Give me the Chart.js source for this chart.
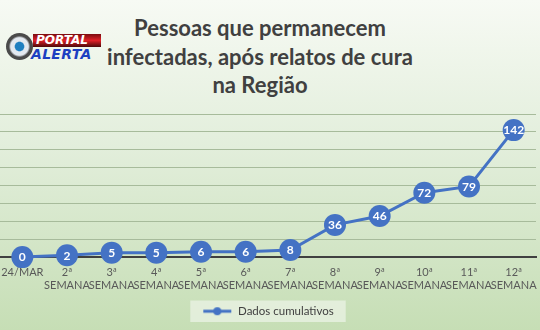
<!DOCTYPE html>
<html>
<head>
<meta charset="utf-8">
<script src="https://cdn.jsdelivr.net/npm/chart.js@4"></script>
<style>
  html, body { margin: 0; padding: 0; }
  body { width: 540px; height: 330px; overflow: hidden; }
  #wrap { position: relative; width: 540px; height: 330px; background: linear-gradient(#f7faf4, #e2eedb 45%, #c6deb5); }
  #title { position: absolute; left: 0; top: 14px; width: 520px; text-align: center; font: bold 22px Lato, "Open Sans", sans-serif; color: #404040; line-height: 28.5px; }
  #logo { position: absolute; left: 0; top: 0; width: 110px; height: 70px; }
  #logo .eye { position: absolute; left: 6px; top: 33px; width: 27px; height: 27px; border-radius: 50%; background: radial-gradient(#1f7fc0 0 22%, #e3e9f0 28% 46%, #4a4a4a 56% 100%); }
  #logo .p { position: absolute; left: 33px; top: 34px; width: 68px; height: 13px; background: linear-gradient(#7a0c10, #e02027 50%, #4a0808); font: italic 900 12px "DejaVu Sans", sans-serif; color: #fff; line-height: 13px; padding-left: 3px; box-sizing: border-box; }
  #logo .a { position: absolute; left: 31px; top: 46px; font: italic 900 14px "DejaVu Sans", sans-serif; color: #1d3fc1; letter-spacing: 0.3px; }
  canvas { position: absolute; left: 0; top: 0; }
</style>
</head>
<body>
<div id="wrap">
  <div id="title">Pessoas que permanecem<br>infectadas, após relatos de cura<br>na Região</div>
  <div id="logo"><div class="eye"></div><div class="p">PORTAL</div><div class="a">ALERTA</div></div>
  <canvas id="c" width="540" height="330"></canvas>
</div>
<script>
const LABELS = ['24/MAR', ['2ª', 'SEMANA'], ['3ª', 'SEMANA'], ['4ª', 'SEMANA'], ['5ª', 'SEMANA'], ['6ª', 'SEMANA'],
  ['7ª', 'SEMANA'], ['8ª', 'SEMANA'], ['9ª', 'SEMANA'], ['10ª', 'SEMANA'], ['11ª', 'SEMANA'], ['12ª', 'SEMANA']];
const CUMULATIVE = [0, 2, 5, 5, 6, 6, 8, 36, 46, 72, 79, 142];
const SERIES_NAME = 'Dados cumulativos';
const Y_MAX = 160;
const Y_STEP = 20;

const BLUE = '#4472c4';
const FONT = 'Lato, "Open Sans", sans-serif';

// legend marker: line with a dot
function legendMarker() {
  const cv = document.createElement('canvas');
  cv.width = 30; cv.height = 10;
  const g = cv.getContext('2d');
  g.strokeStyle = BLUE; g.lineWidth = 3;
  g.beginPath(); g.moveTo(1, 5); g.lineTo(29, 5); g.stroke();
  g.fillStyle = BLUE;
  g.beginPath(); g.arc(15, 5, 4, 0, Math.PI * 2); g.fill();
  return cv;
}

const legendBg = {
  id: 'legendBg',
  beforeDraw(chart) {
    const l = chart.legend;
    if (!l || !l.legendHitBoxes.length) return;
    const hb = l.legendHitBoxes[0];
    const ctx = chart.ctx;
    ctx.save();
    ctx.fillStyle = 'rgba(235,243,230,0.75)';
    ctx.fillRect(hb.left - 12, hb.top - 5, hb.width + 24, hb.height + 10);
    ctx.restore();
  }
};

const pointLabels = {
  id: 'pointLabels',
  afterDatasetsDraw(chart) {
    const ctx = chart.ctx;
    const meta = chart.getDatasetMeta(0);
    ctx.save();
    ctx.fillStyle = '#ffffff';
    ctx.font = 'bold 12px ' + FONT;
    ctx.textAlign = 'center';
    ctx.textBaseline = 'middle';
    meta.data.forEach((p, i) => {
      ctx.fillText(String(CUMULATIVE[i]), p.x, p.y + 0.5);
    });
    ctx.restore();
  }
};

new Chart(document.getElementById('c'), {
  type: 'line',
  data: {
    labels: LABELS,
    datasets: [{
      label: SERIES_NAME,
      data: CUMULATIVE,
      borderColor: BLUE,
      backgroundColor: BLUE,
      borderWidth: 3,
      pointRadius: 11,
      pointHoverRadius: 11,
      pointBackgroundColor: BLUE,
      pointBorderColor: BLUE,
      pointBorderWidth: 0,
      tension: 0,
      clip: false,
    }],
  },
  options: {
    responsive: false,
    animation: false,
    layout: { autoPadding: false, padding: { top: 114, left: 0, right: 4, bottom: 3 } },
    plugins: {
      title: { display: false },
      tooltip: { enabled: false },
      legend: {
        position: 'bottom',
        labels: {
          usePointStyle: true,
          pointStyleWidth: 30,
          color: '#404040',
          font: { size: 11.5, family: FONT },
          padding: 12,
          generateLabels() {
            return [{ text: SERIES_NAME, pointStyle: legendMarker(), fillStyle: BLUE, strokeStyle: BLUE, lineWidth: 0, datasetIndex: 0, fontColor: '#404040' }];
          },
        },
      },
    },
    scales: {
      x: {
        offset: true,
        grid: { display: false },
        border: { display: true, color: '#404040', width: 2 },
        ticks: {
          autoSkip: false, maxRotation: 0, minRotation: 0,
          color: '#595959',
          font: { size: 11, family: FONT },
          padding: 1,
        },
        afterFit(s) { s.paddingLeft = 0; s.paddingRight = 0; },
      },
      y: {
        min: 0, max: Y_MAX,
        ticks: { display: false, stepSize: Y_STEP },
        grid: { color: '#a7bb9b', lineWidth: 1, drawTicks: false },
        border: { display: false },
        afterFit(s) { s.width = 0; },
      },
    },
  },
  plugins: [legendBg, pointLabels],
});
</script>
</body>
</html>
